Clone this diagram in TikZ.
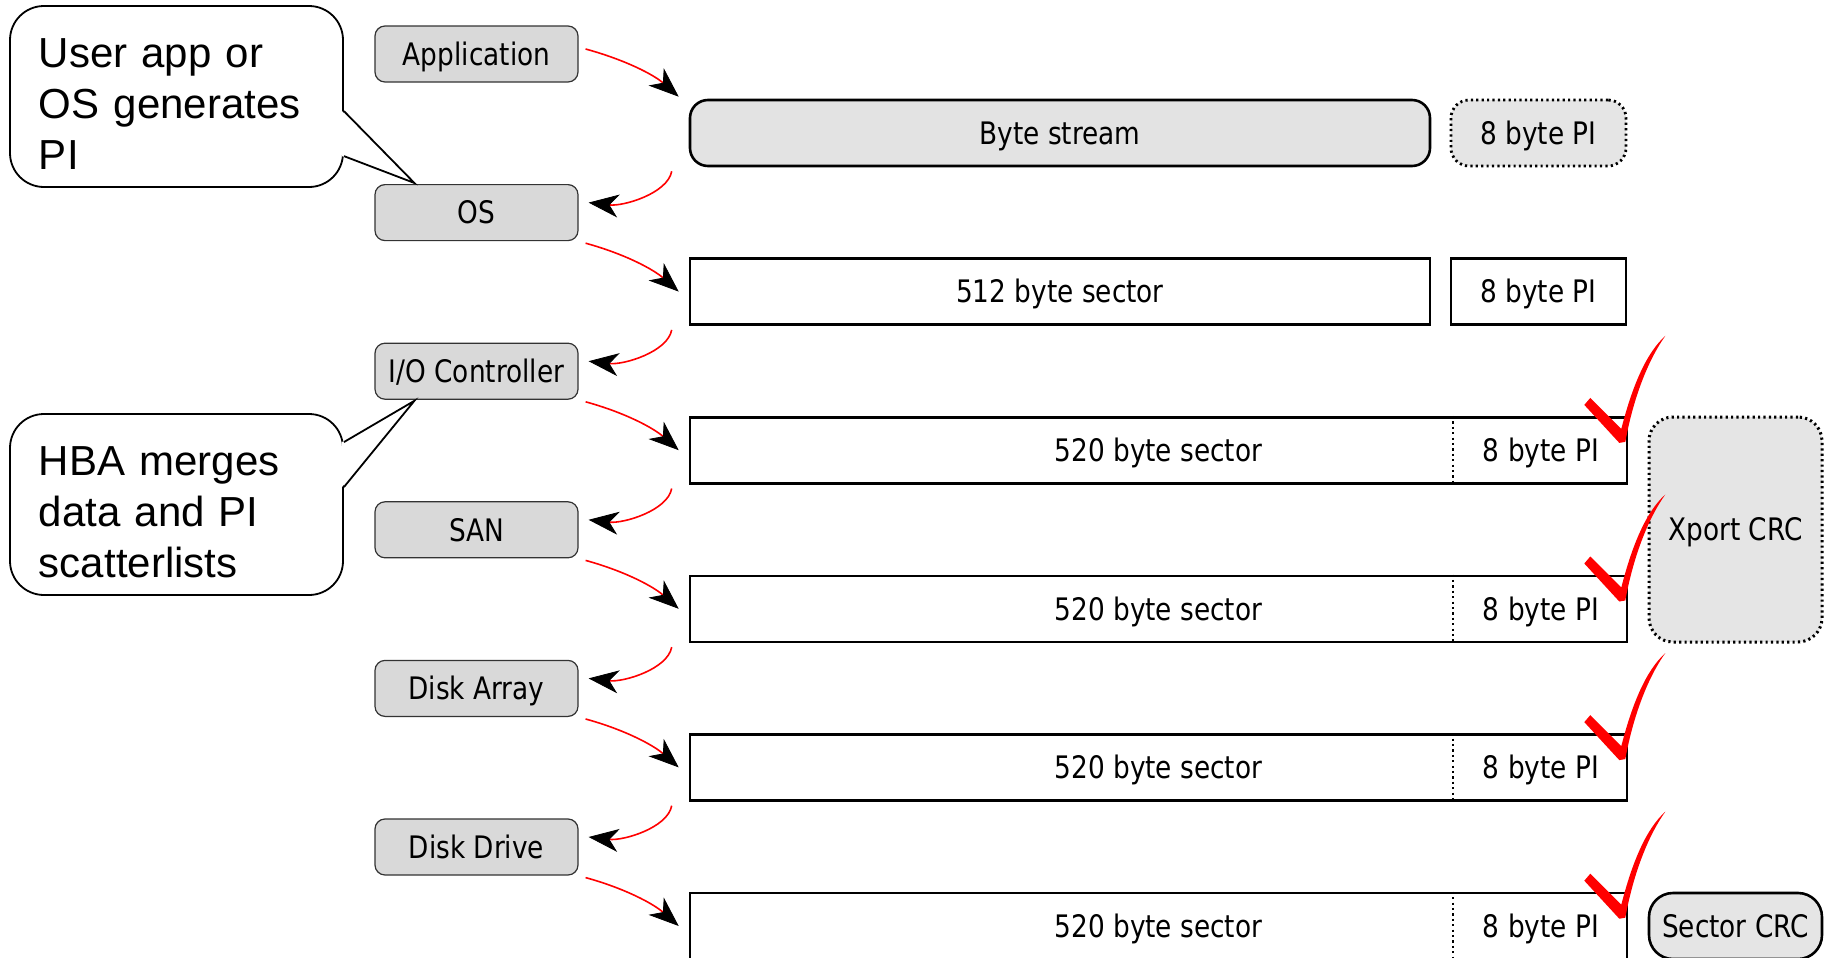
\documentclass[tikz,border=0pt]{standalone}
\usepackage{fontspec}
\usepackage{tikz}
\usetikzlibrary{arrows.meta,calc}
\newfontfamily\calloutfont{Liberation Sans}
\newfontfamily\tagfont[FakeStretch=0.85]{DejaVu Sans}

\begin{document}
\begin{tikzpicture}[x=0.5pt, y=-0.5pt,
        tag font/.style={font=\tagfont\fontsize{15.5}{18}\selectfont, text height=12pt, text depth=0.7pt},
        layer/.style={tag font, draw=black!80, line width=0.6pt, fill=black!15, rounded corners=5pt,
            minimum width=101.5pt, minimum height=28pt, inner sep=0pt},
        sector/.style={tag font, draw, line width=1.3pt, fill=white, minimum height=33pt, inner sep=0pt},
        stream/.style={sector, fill=black!11, rounded corners=9pt},
        pi tag/.style={sector, minimum width=87.5pt},
        crc/.style={tag font, draw, line width=1.3pt, fill=black!10, rounded corners=12pt,
            minimum width=86.5pt, inner sep=0pt},
        dotline/.style={line width=1.4pt, dash pattern=on 1.1pt off 1.6pt},
        note/.style={draw, line width=0.9pt, fill=white, rounded corners=17pt, align=left,
            text width=137.5pt, text height=22.4pt, inner xsep=14.5pt, inner ysep=0pt, minimum height=90.5pt,
            font=\calloutfont\fontsize{21}{25.5}\selectfont},
        flow/.style={red, line width=0.8pt,
            -{Stealth[color=black, fill=black, line width=0.4pt, length=15pt, width=11.5pt, inset=4.5pt]}},
        down arc/.style={to path={.. controls +(40,11) and +(-25,-22) .. (\tikztotarget)}},
        back arc/.style={to path={.. controls +(-4,22) and +(35,4) .. (\tikztotarget)}},
        okmark/.pic={
            \fill[red] (-36,-36) -- (-30,-43) -- (1,-12)
                .. controls (12,-55) and (26,-88) .. (45,-105)
                .. controls (30,-84) and (14,-48) .. (5,1) -- (-1,2) -- cycle;
        }]
    \useasboundingbox (0,0) rectangle (1833,958);
    \clip (0,0) rectangle (1833,958);

    % software / hardware layers
    \node[layer] (app) at (476.5,54) {Application};
    \node[layer] (os) at (476.5,212.6) {OS};
    \node[layer] (ioc) at (476.5,371.2) {I/O Controller};
    \node[layer] (san) at (476.5,529.8) {SAN};
    \node[layer] (arr) at (476.5,688.4) {Disk Array};
    \node[layer] (drv) at (476.5,847) {Disk Drive};

    % data formats
    \node[stream, minimum width=370pt] (bytes) at (1060,133) {Byte stream};
    \node[pi tag, dotline, fill=black!10, rounded corners=9pt] (pi1) at (1538.5,133) {8 byte PI};
    \node[sector, minimum width=370pt] (s512) at (1060,291.6) {512 byte sector};
    \node[pi tag] (pi2) at (1538.5,291.6) {8 byte PI};
    \node[sector, minimum width=468.5pt] (s520a) at (1158.5,450.2) {520 byte sector};
    \node[sector, minimum width=468.5pt] (s520b) at (1158.5,608.8) {520 byte sector};
    \node[sector, minimum width=468.5pt] (s520c) at (1158.5,767.4) {520 byte sector};
    \node[sector, minimum width=468.5pt] (s520d) at (1158.5,926) {520 byte sector};
    \node[tag font] (pi3) at (1541,450.2) {8 byte PI};
    \node[tag font] (pi4) at (1541,608.8) {8 byte PI};
    \node[tag font] (pi5) at (1541,767.4) {8 byte PI};
    \node[tag font] (pi6) at (1541,926) {8 byte PI};
    \draw[dotline, line width=1pt] ($(s520a.north east)+(-175,0)$) -- ($(s520a.south east)+(-175,0)$);
    \draw[dotline, line width=1pt] ($(s520b.north east)+(-175,0)$) -- ($(s520b.south east)+(-175,0)$);
    \draw[dotline, line width=1pt] ($(s520c.north east)+(-175,0)$) -- ($(s520c.south east)+(-175,0)$);
    \draw[dotline, line width=1pt] ($(s520d.north east)+(-175,0)$) -- ($(s520d.south east)+(-175,0)$);

    \node[crc, dotline, line width=1.5pt, minimum height=112.5pt] (xport) at (1735.5,529.5) {Xport CRC};
    \node[crc, minimum height=33pt] (scrc) at (1735.5,926) {Sector CRC};

    % callouts
    \node[note] (gen) at (176.5,96.5) {User app or\\OS generates\\PI};
    \node[note] (merge) at (176.5,504.5) {HBA merges\\data and PI\\scatterlists};
    \coordinate (gen tip) at ($(os.north west)+(40,-1)$);
    \coordinate (merge tip) at ($(ioc.south west)+(40,1)$);
    \fill[white] ($(gen.north east)+(-2,106)$) -- (gen tip) -- ($(gen.north east)+(-2,151)$) -- cycle;
    \draw[line width=0.9pt] ($(gen.north east)+(0,106)$) -- (gen tip) -- ($(gen.north east)+(0,151)$);
    \fill[white] ($(merge.north east)+(-2,29)$) -- (merge tip) -- ($(merge.north east)+(-2,74)$) -- cycle;
    \draw[line width=0.9pt] ($(merge.north east)+(0,29)$) -- (merge tip) -- ($(merge.north east)+(0,74)$);

    % hand-offs between layers
    \path[flow]
        ($(app.east)+(7,-5)$) edge[down arc] ($(bytes.north west)+(-10,-2)$)
        ($(bytes.south west)+(-17,4)$) edge[back arc] ($(os.east)+(10,-10)$)
        ($(os.south east)+(7,2)$) edge[down arc] ($(s512.west)+(-10,0)$)
        ($(s512.south west)+(-17,4)$) edge[back arc] ($(ioc.east)+(10,-10)$)
        ($(ioc.south east)+(7,2)$) edge[down arc] ($(s520a.west)+(-10,0)$)
        ($(s520a.south west)+(-17,4)$) edge[back arc] ($(san.east)+(10,-10)$)
        ($(san.south east)+(7,2)$) edge[down arc] ($(s520b.west)+(-10,0)$)
        ($(s520b.south west)+(-17,4)$) edge[back arc] ($(arr.east)+(10,-10)$)
        ($(arr.south east)+(7,2)$) edge[down arc] ($(s520c.west)+(-10,0)$)
        ($(s520c.south west)+(-17,4)$) edge[back arc] ($(drv.east)+(10,-10)$)
        ($(drv.south east)+(7,2)$) edge[down arc] ($(s520d.west)+(-10,0)$);

    % PI checks
    \pic at ($(s520a.north east)+(-8,25)$) {okmark};
    \pic at ($(s520b.north east)+(-8,25)$) {okmark};
    \pic at ($(s520c.north east)+(-8,25)$) {okmark};
    \pic at ($(s520d.north east)+(-8,25)$) {okmark};
\end{tikzpicture}
\end{document}
